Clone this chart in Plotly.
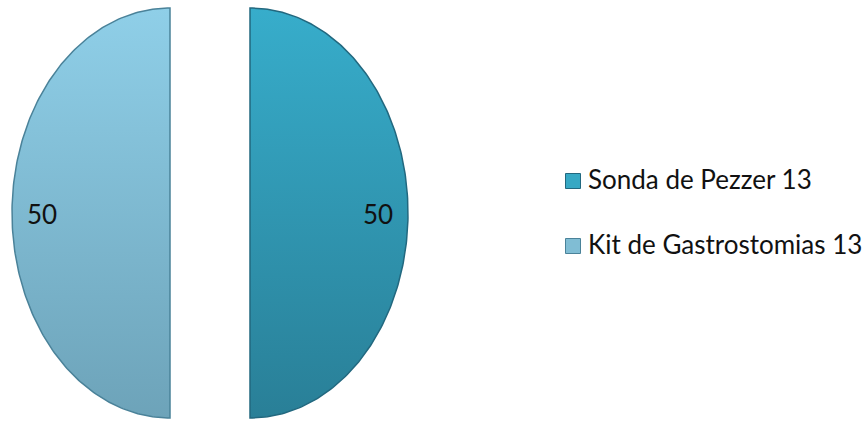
import numpy as np
import plotly.graph_objects as go

categories = ["Sonda de Pezzer 13", "Kit de Gastrostomias 13"]
values = [50, 50]
labels = ["50", "50"]
colors_top = ["#37adcb", "#8fcfe8"]
colors_bottom = ["#297f97", "#6da3b9"]
edge_colors = ["#22687f", "#4a8299"]
legend_colors = ["#36a8c4", "#80bdd4"]

FONT = "Lato, Liberation Sans, sans-serif"

# geometry of the (elliptical) exploded pie in pixel space
W, H = 867, 421
cx, cy = 210, 213
a, b = 158, 205
pull = 40
legend_x, legend_y0, legend_dy = 573, 181, 65

fig = go.Figure()
total = sum(values)
start = 0.0
for i, (cat, v) in enumerate(zip(categories, values)):
    frac = v / total
    t0 = start * 2 * np.pi
    t1 = (start + frac) * 2 * np.pi
    mid = (t0 + t1) / 2
    ox = cx + pull * np.sin(mid)
    oy = cy - pull * np.cos(mid)
    th = np.linspace(t0, t1, 200)
    xs = np.concatenate([[ox], ox + a * np.sin(th), [ox]])
    ys = np.concatenate([[oy], oy - b * np.cos(th), [oy]])
    fig.add_trace(go.Scatter(
        x=xs, y=ys, mode="lines", fill="toself", name=cat,
        line=dict(color=edge_colors[i], width=1.5),
        fillgradient=dict(type="vertical",
                          colorscale=[[0, colors_bottom[i]], [1, colors_top[i]]]),
        showlegend=False, hoverinfo="skip"))
    r = 0.81
    fig.add_trace(go.Scatter(
        x=[ox + r * a * np.sin(mid)], y=[oy - r * b * np.cos(mid) + 4],
        mode="text", text=[labels[i]],
        textfont=dict(family=FONT, size=26, color="#111111"),
        showlegend=False, hoverinfo="skip"))
    start += frac

# legend entries (squares + text), drawn in the same pixel space
ly = [legend_y0 + k * legend_dy for k in range(len(categories))]
fig.add_trace(go.Scatter(
    x=[legend_x] * len(categories), y=ly, mode="markers",
    marker=dict(symbol="square", size=15, color=legend_colors,
                line=dict(color=edge_colors, width=1)),
    showlegend=False, hoverinfo="skip", cliponaxis=False))
fig.add_trace(go.Scatter(
    x=[legend_x + 15] * len(categories), y=[v + 1 for v in ly], mode="text",
    text=categories, textposition="middle right",
    textfont=dict(family=FONT, size=26, color="#111111"),
    showlegend=False, hoverinfo="skip", cliponaxis=False))

fig.update_layout(
    width=W, height=H, margin=dict(l=0, r=0, t=0, b=0),
    paper_bgcolor="white", plot_bgcolor="white",
    xaxis=dict(range=[0, W], visible=False, fixedrange=True),
    yaxis=dict(range=[H, 0], visible=False, fixedrange=True),
    showlegend=False,
)
fig.write_html(
    "out.html",
    config={"displayModeBar": False, "responsive": False},
    post_script=("document.body.style.margin='0';"
                 "document.body.style.overflow='hidden';"),
)
